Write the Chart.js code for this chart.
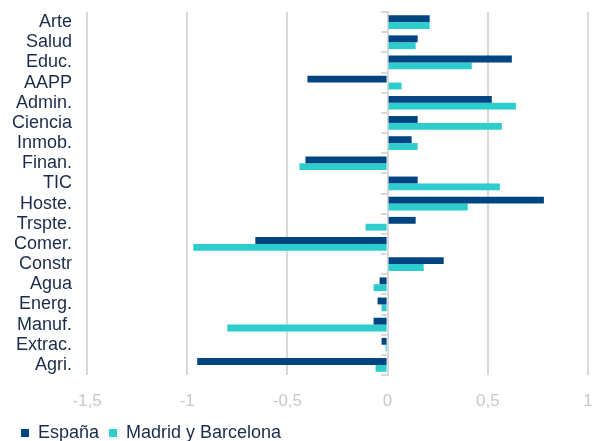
<!DOCTYPE html>
<html>
<head>
<meta charset="utf-8">
<script src="https://cdn.jsdelivr.net/npm/chart.js@4.4.1/dist/chart.umd.min.js"></script>
<style>
    html, body { margin: 0; padding: 0; background: #fff; }
    #wrap { width: 594px; height: 441px; }
</style>
</head>
<body>
<div id="wrap"><canvas id="sector-graph"></canvas></div>
<script>
const sectors = ['Arte', 'Salud', 'Educ.', 'AAPP', 'Admin.', 'Ciencia', 'Inmob.', 'Finan.', 'TIC',
    'Hoste.', 'Trspte.', 'Comer.', 'Constr', 'Agua', 'Energ.', 'Manuf.', 'Extrac.', 'Agri.'];
const espana = [0.21, 0.15, 0.62, -0.40, 0.52, 0.15, 0.12, -0.41, 0.15,
    0.78, 0.14, -0.66, 0.28, -0.04, -0.05, -0.07, -0.03, -0.95];
const madridBarcelona = [0.21, 0.14, 0.42, 0.07, 0.64, 0.57, 0.15, -0.44, 0.56,
    0.40, -0.11, -0.97, 0.18, -0.07, -0.03, -0.80, -0.01, -0.06];
const xTicks = [-1.5, -1, -0.5, 0, 0.5, 1];

(function() {
    const navy = '#1b2b4b';
    const ctx = document.getElementById('sector-graph').getContext('2d');

    // legend sits lower and takes less room than Chart.js gives it by default
    const legendHeight = {
        id: 'legendHeight',
        beforeInit(chart) {
            const fit = chart.legend.fit;
            chart.legend.fit = function() {
                fit.call(this);
                this.height = 27;
            };
        }
    };

    new Chart(ctx, {
        type: 'bar',
        data: {
            labels: sectors,
            datasets: [{
                label: 'España',
                data: espana,
                backgroundColor: '#004481',
                categoryPercentage: 0.68,
                barPercentage: 1
            }, {
                label: 'Madrid y Barcelona',
                data: madridBarcelona,
                backgroundColor: '#2dcccd',
                categoryPercentage: 0.68,
                barPercentage: 1
            }]
        },
        options: {
            indexAxis: 'y',
            responsive: true,
            maintainAspectRatio: false,
            animation: false,
            layout: {
                padding: { left: 11, right: 6, top: 12, bottom: 0 }
            },
            scales: {
                x: {
                    min: -1.5,
                    max: 1,
                    afterBuildTicks: scale => {
                        scale.ticks = xTicks.map(v => ({ value: v }));
                    },
                    afterFit: scale => {
                        scale.height = 39;
                        scale.paddingLeft = 0;
                        scale.paddingRight = 0;
                    },
                    border: { display: false },
                    grid: {
                        color: '#d9d9d9',
                        lineWidth: 2,
                        drawTicks: false
                    },
                    ticks: {
                        padding: 16,
                        color: '#c8c8c8',
                        font: { family: 'Liberation Sans, Arial', size: 17 },
                        callback: v => String(v).replace('.', ',')
                    }
                },
                y: {
                    afterFit: scale => {
                        scale.width = 76;
                        scale.paddingTop = 0;
                        scale.paddingBottom = 0;
                    },
                    border: { display: false },
                    grid: { display: false, drawTicks: false },
                    ticks: {
                        autoSkip: false,
                        padding: 15,
                        color: navy,
                        font: { family: 'Liberation Sans, Arial', size: 18 }
                    }
                },
                zeroAxis: {
                    type: 'category',
                    axis: 'y',
                    position: { x: 0 },
                    border: { display: true, color: '#d9d9d9', width: 2 },
                    grid: {
                        drawOnChartArea: false,
                        drawTicks: true,
                        tickLength: 6,
                        color: '#d9d9d9',
                        lineWidth: 2
                    },
                    ticks: { display: false }
                }
            },
            plugins: {
                legend: {
                    position: 'bottom',
                    align: 'start',
                    labels: {
                        boxWidth: 8,
                        boxHeight: 8,
                        padding: 10,
                        color: navy,
                        font: { family: 'Liberation Sans, Arial', size: 18 }
                    }
                },
                tooltip: { enabled: false }
            }
        },
        plugins: [legendHeight]
    });
})();
</script>
</body>
</html>
